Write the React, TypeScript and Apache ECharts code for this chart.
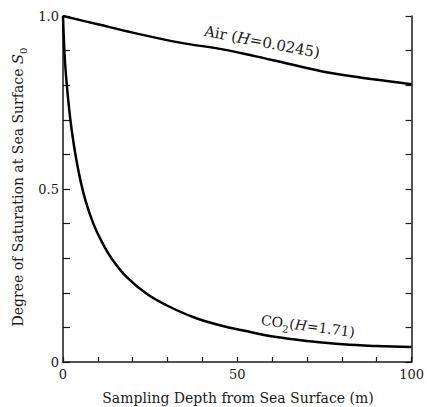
import React, { useEffect, useRef } from "react";
import * as echarts from "echarts";

const co2Depth = [0, 0.5, 1.1, 2.0, 3.0, 4.0, 5.0, 6.5, 8.7, 11, 13.9, 18.3, 24, 29.7, 37.3, 45, 51.7, 61.2, 70.8, 80.3, 89.9, 100];
const co2Sat = [1.0, 0.88, 0.8, 0.71, 0.635, 0.575, 0.525, 0.465, 0.4, 0.35, 0.3, 0.245, 0.197, 0.164, 0.13, 0.106, 0.091, 0.072, 0.06, 0.051, 0.046, 0.043];

const airDepth = [0, 10, 20, 33.5, 45, 55, 65, 76.5, 89, 100];
const airSat = [1.0, 0.976, 0.952, 0.923, 0.905, 0.884, 0.861, 0.836, 0.817, 0.803];

const xTickLabels = ["0", "50", "100"];
const yTickLabels = ["0", "0.5", "1.0"];

const FONT = "DejaVu Serif";
const INK = "#1a1a1a";

export default function App() {
  const ref = useRef<HTMLDivElement>(null);

  useEffect(() => {
    if (!ref.current) return;
    const chart = echarts.init(ref.current, undefined, { renderer: "svg" });
    const co2 = co2Depth.map((d, i) => [d, co2Sat[i]]);
    const air = airDepth.map((d, i) => [d, airSat[i]]);
    const axisLine = { show: true, lineStyle: { color: INK, width: 1.5 } };
    chart.setOption({
      animation: false,
      backgroundColor: "#fff",
      grid: { left: 63, right: 15, top: 16, bottom: 45, containLabel: false },
      xAxis: {
        type: "value",
        min: 0,
        max: 100,
        interval: 10,
        axisLine,
        axisTick: { show: true, inside: true, length: 5, lineStyle: { color: INK, width: 1.2 } },
        splitLine: { show: false },
        axisLabel: {
          show: true,
          margin: 6,
          fontFamily: FONT,
          fontSize: 13,
          color: INK,
          formatter: (v: number) => {
            const s = String(Math.round(v));
            return xTickLabels.includes(s) ? s : "";
          },
        },
      },
      yAxis: [
        {
          type: "value",
          min: 0,
          max: 1,
          interval: 0.1,
          position: "left",
          axisLine,
          axisTick: { show: true, inside: true, length: 7, lineStyle: { color: INK, width: 1.2 } },
          splitLine: { show: false },
          axisLabel: {
            show: true,
            margin: 4,
            fontFamily: FONT,
            fontSize: 13,
            color: INK,
            formatter: (v: number) => {
              if (Math.abs(v) < 1e-6) return yTickLabels[0];
              if (Math.abs(v - 0.5) < 1e-6) return yTickLabels[1];
              if (Math.abs(v - 1) < 1e-6) return yTickLabels[2];
              return "";
            },
          },
        },
        {
          type: "value",
          min: 0,
          max: 1,
          interval: 0.1,
          position: "right",
          axisLine,
          axisTick: { show: true, inside: true, length: 6, lineStyle: { color: INK, width: 1.2 } },
          splitLine: { show: false },
          axisLabel: { show: false },
        },
      ],
      series: [
        {
          type: "line",
          name: "Air",
          data: air,
          smooth: 0.4,
          showSymbol: false,
          lineStyle: { color: "#000", width: 2.5 },
        },
        {
          type: "line",
          name: "CO2",
          data: co2,
          smooth: 0.4,
          showSymbol: false,
          lineStyle: { color: "#000", width: 2.5 },
        },
      ],
      graphic: [
        {
          type: "text",
          x: 262,
          y: 42,
          rotation: -0.19,
          style: {
            text: "Air ({i|H}=0.0245)",
            fontFamily: FONT,
            fontSize: 15,
            fill: INK,
            align: "center",
            verticalAlign: "middle",
            rich: { i: { fontStyle: "italic", fontFamily: FONT, fontSize: 15, fill: INK } },
          },
        },
        {
          type: "text",
          x: 308,
          y: 326,
          rotation: -0.13,
          style: {
            text: "CO{s|2}({i|H}=1.71)",
            fontFamily: FONT,
            fontSize: 14,
            fill: INK,
            align: "center",
            verticalAlign: "middle",
            rich: {
              i: { fontStyle: "italic", fontFamily: FONT, fontSize: 14, fill: INK },
              s: { fontFamily: FONT, fontSize: 10, fill: INK, verticalAlign: "bottom", lineHeight: 22 },
            },
          },
        },
        {
          type: "text",
          x: 18,
          y: 187,
          rotation: Math.PI / 2,
          style: {
            text: "Degree of Saturation at Sea Surface {i|S}{s|0}",
            fontFamily: FONT,
            fontSize: 14,
            fill: INK,
            align: "center",
            verticalAlign: "middle",
            rich: {
              i: { fontStyle: "italic", fontFamily: FONT, fontSize: 15, fill: INK },
              s: { fontFamily: FONT, fontSize: 10, fill: INK, verticalAlign: "bottom", lineHeight: 20 },
            },
          },
        },
        {
          type: "text",
          x: 238,
          y: 398,
          style: {
            text: "Sampling Depth from Sea Surface (m)",
            fontFamily: FONT,
            fontSize: 14,
            fill: INK,
            align: "center",
            verticalAlign: "middle",
          },
        },
      ],
    });
    return () => chart.dispose();
  }, []);

  return (
    <div
      ref={ref}
      style={{ position: "fixed", left: 0, top: 0, width: 427, height: 407 }}
    />
  );
}
